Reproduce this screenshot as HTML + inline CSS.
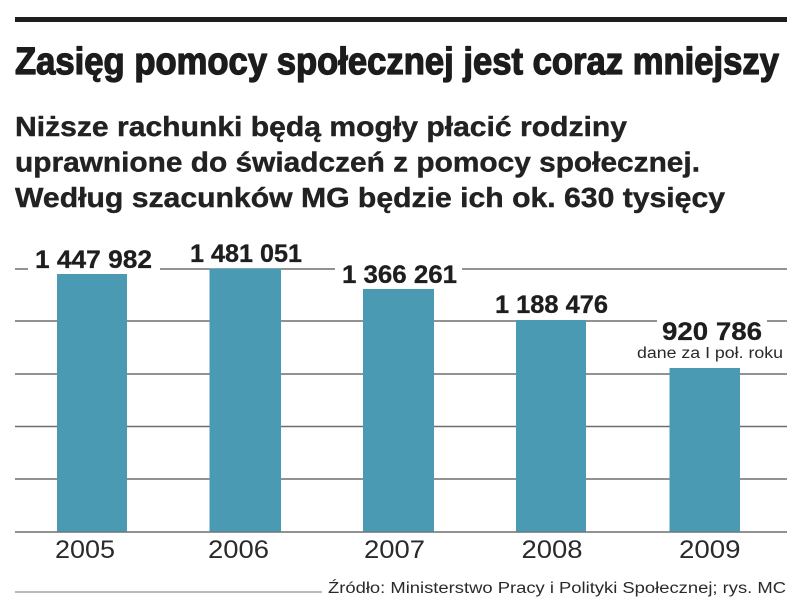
<!DOCTYPE html>
<html>
<head>
<meta charset="utf-8">
<style>
html,body{margin:0;padding:0;background:#fff;}
svg{display:block;}
</style>
</head>
<body>
<svg width="805" height="610" viewBox="0 0 805 610" xmlns="http://www.w3.org/2000/svg">
<rect width="805" height="610" fill="#fff"/>
<!-- top rule -->
<rect x="15" y="17" width="772" height="5" fill="#1e1e1e"/>
<!-- title -->
<text x="15" y="74" font-family="Liberation Sans Narrow, Liberation Sans, sans-serif" font-weight="bold" font-size="38" fill="#1c1c1c" stroke="#1c1c1c" stroke-width="1.3" stroke-linejoin="round" textLength="764" lengthAdjust="spacingAndGlyphs">Zasięg pomocy społecznej jest coraz mniejszy</text>
<!-- subtitle -->
<g font-family="Liberation Sans, sans-serif" font-weight="bold" font-size="27.5" fill="#222" stroke="#222" stroke-width="0.4">
<text x="15" y="136" textLength="612" lengthAdjust="spacingAndGlyphs">Niższe rachunki będą mogły płacić rodziny</text>
<text x="15" y="171.5" textLength="685" lengthAdjust="spacingAndGlyphs">uprawnione do świadczeń z pomocy społecznej.</text>
<text x="15" y="207" textLength="710" lengthAdjust="spacingAndGlyphs">Według szacunków MG będzie ich ok. 630 tysięcy</text>
</g>
<!-- gridlines -->
<g stroke="#6e6e6e" stroke-width="1.5">
<line x1="15" y1="269" x2="787" y2="269"/>
<line x1="15" y1="321" x2="787" y2="321"/>
<line x1="15" y1="374" x2="787" y2="374"/>
<line x1="15" y1="426.5" x2="787" y2="426.5"/>
<line x1="15" y1="479" x2="787" y2="479"/>
<line x1="15" y1="532" x2="787" y2="532"/>
</g>
<!-- bars -->
<g fill="#4a9ab4">
<rect x="57" y="274" width="70" height="257.5"/>
<rect x="209.5" y="268.5" width="71.5" height="263"/>
<rect x="363" y="289" width="71" height="242.5"/>
<rect x="516" y="320" width="70" height="211.5"/>
<rect x="669.5" y="368" width="70.5" height="163.5"/>
</g>
<!-- white boxes behind labels -->
<g fill="#fff">
<rect x="28" y="244" width="132" height="28"/>
<rect x="335" y="264" width="127" height="22"/>
<rect x="657" y="316" width="110" height="26"/>
</g>
<!-- value labels -->
<g font-family="Liberation Sans, sans-serif" font-weight="bold" font-size="25" fill="#1e1e1e" stroke="#1e1e1e" stroke-width="0.3">
<text x="35" y="268" textLength="117" lengthAdjust="spacingAndGlyphs">1 447 982</text>
<text x="190" y="262" textLength="112" lengthAdjust="spacingAndGlyphs">1 481 051</text>
<text x="342" y="283" textLength="115" lengthAdjust="spacingAndGlyphs">1 366 261</text>
<text x="495" y="313" textLength="113" lengthAdjust="spacingAndGlyphs">1 188 476</text>
<text x="662" y="340" textLength="100" lengthAdjust="spacingAndGlyphs">920 786</text>
</g>
<text x="637" y="358" font-family="Liberation Sans, sans-serif" font-size="15.5" fill="#2a2a2a" textLength="146" lengthAdjust="spacingAndGlyphs">dane za I poł. roku</text>
<!-- year labels -->
<g font-family="Liberation Sans, sans-serif" font-size="25" fill="#2a2a2a">
<text x="55" y="558" textLength="60" lengthAdjust="spacingAndGlyphs">2005</text>
<text x="208" y="558" textLength="61" lengthAdjust="spacingAndGlyphs">2006</text>
<text x="364" y="558" textLength="61" lengthAdjust="spacingAndGlyphs">2007</text>
<text x="521.5" y="558" textLength="61" lengthAdjust="spacingAndGlyphs">2008</text>
<text x="679" y="558" textLength="61.5" lengthAdjust="spacingAndGlyphs">2009</text>
</g>
<!-- footer -->
<line x1="15" y1="592" x2="322" y2="592" stroke="#777" stroke-width="1"/>
<text x="328" y="593" font-family="Liberation Sans, sans-serif" font-size="15.5" fill="#2a2a2a" textLength="458" lengthAdjust="spacingAndGlyphs">Źródło: Ministerstwo Pracy i Polityki Społecznej;  rys. MC</text>
</svg>
</body>
</html>
